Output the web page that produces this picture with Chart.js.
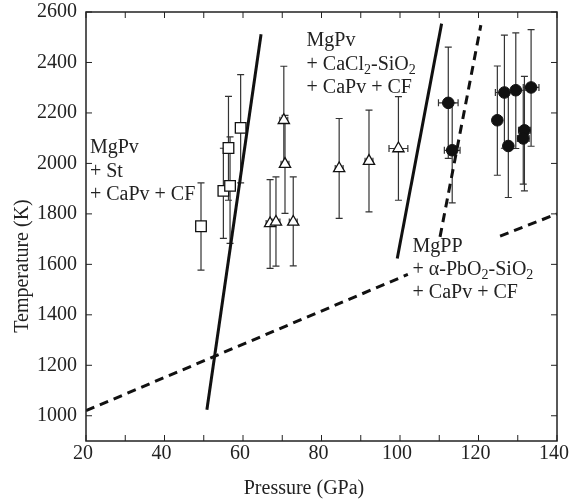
<!DOCTYPE html>
<html>
<head>
<meta charset="utf-8">
<script src="https://cdn.jsdelivr.net/npm/chart.js@4.4.1/dist/chart.umd.min.js"></script>
<style>
  html, body { margin: 0; padding: 0; background: #fff; }
  #wrap { width: 570px; height: 503px; }
</style>
</head>
<body>
<div id="wrap"><canvas id="c"></canvas></div>
<script>
// pressure (GPa) / temperature (K) data
const sqP   = [49.3, 55.0, 56.3, 56.7, 59.4];
const sqT   = [1751, 1891, 2061, 1911, 2141];
const sqLo  = [1577, 1703, 1854, 1683, 1923];
const sqHi  = [1923, 2060, 2266, 2105, 2352];
const sqPe  = [0, 0, 0, 0, 0];

const triP  = [66.9, 68.4, 70.4, 70.7, 72.8, 84.5, 92.1, 99.6];
const triT  = [1762, 1768, 2171, 1997, 1768, 1980, 2009, 2059];
const triLo = [1584, 1593, 1990, 1802, 1594, 1782, 1808, 1854];
const triHi = [1936, 1947, 2385, 2190, 1947, 2178, 2211, 2265];
const triPe = [1, 1, 1, 1, 1, 1, 1, 2.4];

const cirP  = [112.3, 113.3, 124.8, 126.6, 127.6, 129.5, 131.7, 131.4, 133.4];
const cirT  = [2240, 2052, 2171, 2281, 2069, 2290, 2131, 2099, 2301];
const cirLo = [2020, 1844, 1953, 2060, 1865, 2059, 1891, 1918, 2068];
const cirHi = [2461, 2240, 2386, 2508, 2280, 2517, 2345, 2290, 2530];
const cirPe = [2.5, 2, 0, 2.3, 0, 0, 1.5, 1.5, 2];

// phase boundaries
const solidA  = [[50.8, 1024], [64.6, 2512]];
const solidB  = [[99.3, 1623], [110.6, 2554]];
const dashLow = [[20, 1020], [102, 1560]];
const dashMid = [[110.2, 1709], [120.6, 2548]];
const dashHi  = [[125.5, 1712], [140, 1800]];

const xTicks = [20, 40, 60, 80, 100, 120, 140];
const xMinor = [30, 50, 70, 90, 110, 130];
const yTicks = [1000, 1200, 1400, 1600, 1800, 2000, 2200, 2400, 2600];

const FONT = "'Liberation Serif', 'DejaVu Serif', serif";
const INK = '#222';

const pts = (P, T) => P.map((p, i) => ({ x: p, y: T[i] }));
const seg = a => a.map(d => ({ x: d[0], y: d[1] }));

function lineSet(a, dashed) {
  return {
    type: 'line', data: seg(a), borderColor: '#111', borderWidth: 3,
    borderDash: dashed ? [9, 6] : [], pointRadius: 0, fill: false, order: 1
  };
}

// error bars (drawn under the markers)
const errorBars = {
  id: 'errorBars',
  beforeDatasetsDraw(chart) {
    const { ctx, scales: { x, y } } = chart;
    ctx.save();
    ctx.strokeStyle = '#333';
    ctx.lineWidth = 1.2;
    chart.data.datasets.forEach(ds => {
      if (!ds.errLo) return;
      ds.data.forEach((d, i) => {
        const px = x.getPixelForValue(d.x), py = y.getPixelForValue(d.y);
        const lo = y.getPixelForValue(ds.errLo[i]), hi = y.getPixelForValue(ds.errHi[i]);
        ctx.beginPath();
        ctx.moveTo(px, lo); ctx.lineTo(px, hi);
        ctx.moveTo(px - 3.5, lo); ctx.lineTo(px + 3.5, lo);
        ctx.moveTo(px - 3.5, hi); ctx.lineTo(px + 3.5, hi);
        const pe = ds.errP[i];
        if (pe) {
          const l = x.getPixelForValue(d.x - pe), r = x.getPixelForValue(d.x + pe);
          ctx.moveTo(l, py); ctx.lineTo(r, py);
          ctx.moveTo(l, py - 3.5); ctx.lineTo(l, py + 3.5);
          ctx.moveTo(r, py - 3.5); ctx.lineTo(r, py + 3.5);
        }
        ctx.stroke();
      });
    });
    ctx.restore();
  }
};

// frame, inward ticks, axis titles, phase labels
const decor = {
  id: 'decor',
  afterDraw(chart) {
    const { ctx, chartArea: a, scales: { x, y } } = chart;
    ctx.save();
    ctx.strokeStyle = INK;
    ctx.lineWidth = 1.5;
    ctx.strokeRect(a.left, a.top, a.right - a.left, a.bottom - a.top);
    ctx.lineWidth = 1;
    ctx.beginPath();
    xTicks.concat(xMinor).forEach(v => {
      const px = x.getPixelForValue(v);
      ctx.moveTo(px, a.bottom); ctx.lineTo(px, a.bottom - 6);
      ctx.moveTo(px, a.top); ctx.lineTo(px, a.top + 6);
    });
    yTicks.forEach(v => {
      const py = y.getPixelForValue(v);
      ctx.moveTo(a.left, py); ctx.lineTo(a.left + 6, py);
      ctx.moveTo(a.right, py); ctx.lineTo(a.right - 6, py);
    });
    ctx.stroke();

    ctx.fillStyle = INK;
    ctx.font = '20px ' + FONT;
    ctx.textAlign = 'center';
    ctx.textBaseline = 'alphabetic';
    ctx.fillText('Pressure (GPa)', 304, 494);
    ctx.save();
    ctx.translate(28, 266);
    ctx.rotate(-Math.PI / 2);
    ctx.fillText('Temperature (K)', 0, 0);
    ctx.restore();

    ctx.textAlign = 'left';
    const labels = [
      { p: 21.0, t: 2040, lines: [[['MgPv']], [['+ St']], [['+ CaPv + CF']]] },
      { p: 76.2, t: 2464, lines: [[['MgPv']], [['+ CaCl'], ['2', 1], ['-SiO'], ['2', 1]], [['+ CaPv + CF']]] },
      { p: 103.2, t: 1650, lines: [[['MgPP']], [['+ \u03b1-PbO'], ['2', 1], ['-SiO'], ['2', 1]], [['+ CaPv + CF']]] }
    ];
    labels.forEach(lb => {
      const x0 = x.getPixelForValue(lb.p), y0 = y.getPixelForValue(lb.t);
      lb.lines.forEach((line, li) => {
        let cx = x0;
        const by = y0 + li * 23.3;
        line.forEach(([txt, sub]) => {
          ctx.font = (sub ? '14px ' : '20px ') + FONT;
          ctx.fillText(txt, cx, sub ? by + 4 : by);
          cx += ctx.measureText(txt).width;
        });
      });
    });
    ctx.restore();
  }
};

new Chart(document.getElementById('c'), {
  type: 'scatter',
  data: {
    datasets: [
      lineSet(solidA, false),
      lineSet(solidB, false),
      lineSet(dashLow, true),
      lineSet(dashMid, true),
      lineSet(dashHi, true),
      { data: pts(sqP, sqT), errLo: sqLo, errHi: sqHi, errP: sqPe, pointStyle: 'rect', pointRadius: 7.5,
        backgroundColor: '#fff', borderColor: '#111', borderWidth: 1.3, order: 0 },
      { data: pts(triP, triT), errLo: triLo, errHi: triHi, errP: triPe, pointStyle: 'triangle', pointRadius: 6.5,
        backgroundColor: '#fff', borderColor: '#111', borderWidth: 1.3, order: 0 },
      { data: pts(cirP, cirT), errLo: cirLo, errHi: cirHi, errP: cirPe, pointStyle: 'circle', pointRadius: 5.8,
        backgroundColor: '#111', borderColor: '#111', borderWidth: 1, order: 0 }
    ]
  },
  options: {
    responsive: true,
    maintainAspectRatio: false,
    animation: false,
    layout: { padding: { top: 12, right: 13, left: 0, bottom: 0 } },
    plugins: { legend: { display: false }, tooltip: { enabled: false } },
    scales: {
      x: {
        type: 'linear', min: 20, max: 140,
        grid: { display: false, drawTicks: false }, border: { display: false },
        afterBuildTicks: s => { s.ticks = xTicks.map(v => ({ value: v })); },
        afterFit: s => { s.height = 62; s.paddingLeft = 0; s.paddingRight = 0; },
        ticks: { color: INK, font: { family: FONT, size: 20 }, padding: 1, labelOffset: -3, maxRotation: 0, callback: v => String(v) }
      },
      y: {
        type: 'linear', min: 900, max: 2600,
        grid: { display: false, drawTicks: false }, border: { display: false },
        afterBuildTicks: s => { s.ticks = yTicks.map(v => ({ value: v })); },
        afterFit: s => { s.width = 86; s.paddingTop = 0; s.paddingBottom = 0; },
        ticks: { color: INK, font: { family: FONT, size: 20 }, padding: 9, callback: v => String(v) }
      }
    }
  },
  plugins: [errorBars, decor]
});
</script>
</body>
</html>
